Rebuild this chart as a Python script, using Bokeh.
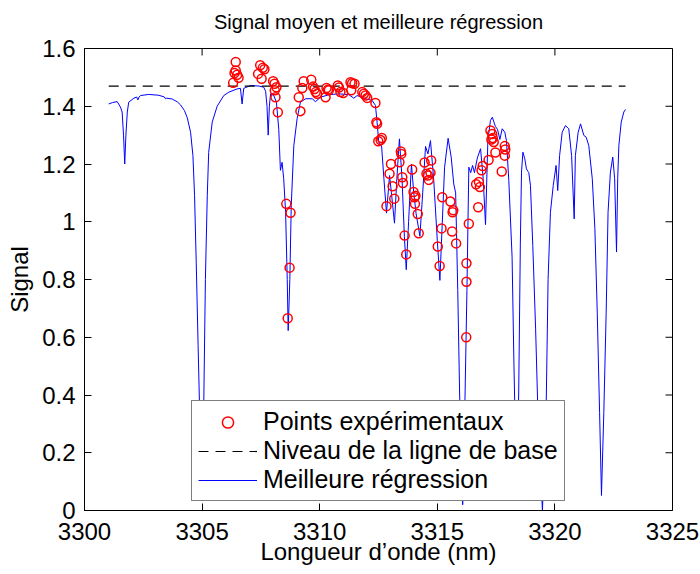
from bokeh.plotting import figure
from bokeh.models import Legend, LegendItem, FixedTicker, Range1d, LinearAxis
from bokeh.embed import file_html
from bokeh.resources import INLINE

# ---- data ----
fit_x = [3301.03, 3301.20, 3301.39, 3301.53, 3301.60, 3301.66, 3301.71, 3301.76, 3301.82, 3301.88,
         3302.10, 3302.22, 3302.27, 3302.32, 3302.38, 3302.73, 3303.16, 3303.40, 3303.44, 3303.50,
         3303.73, 3303.95, 3304.08, 3304.25, 3304.37, 3304.51, 3304.61, 3304.68, 3304.75, 3304.83,
         3304.89, 3304.97, 3305.07, 3305.14, 3305.22, 3305.28, 3305.43, 3305.64, 3305.92, 3306.14,
         3306.49, 3306.63, 3306.70, 3306.77, 3307.06, 3307.41, 3307.62, 3307.70, 3307.76, 3307.81,
         3307.86, 3307.91, 3308.05, 3308.16, 3308.26, 3308.33, 3308.40, 3308.47, 3308.55, 3308.62,
         3308.66, 3308.73, 3308.79, 3308.90, 3309.04, 3309.18, 3309.40, 3309.68, 3309.82, 3310.03,
         3310.39, 3310.81, 3311.24, 3311.45, 3311.59, 3311.95, 3312.23, 3312.37, 3312.44, 3312.51,
         3312.63, 3312.73, 3312.84, 3312.97, 3313.05, 3313.18, 3313.28, 3313.39, 3313.50, 3313.60,
         3313.68, 3313.78, 3313.90, 3314.00, 3314.10, 3314.26, 3314.38, 3314.50, 3314.60, 3314.71,
         3314.85, 3315.00, 3315.11, 3315.21, 3315.31, 3315.46, 3315.59, 3315.70, 3315.78, 3315.87,
         3315.95, 3316.08, 3316.18, 3316.26, 3316.34, 3316.42, 3316.50, 3316.58, 3316.70, 3316.84,
         3316.95, 3317.05, 3317.15, 3317.26, 3317.34, 3317.47, 3317.56, 3317.66, 3317.76, 3317.87,
         3317.94, 3318.04, 3318.18, 3318.26, 3318.36, 3318.46, 3318.53, 3318.58, 3318.64, 3318.72,
         3318.79, 3318.85, 3318.89, 3318.96, 3319.06, 3319.18, 3319.27, 3319.47, 3319.63, 3319.71,
         3319.81, 3319.93, 3320.05, 3320.12, 3320.20, 3320.31, 3320.45, 3320.59, 3320.71, 3320.82,
         3320.87, 3320.99, 3321.09, 3321.23, 3321.33, 3321.44, 3321.59, 3321.70, 3321.80, 3321.90,
         3321.98, 3322.08, 3322.18, 3322.26, 3322.36, 3322.46, 3322.54, 3322.62, 3322.67, 3322.72,
         3322.82, 3322.93, 3323.00]
fit_y = [1.408, 1.413, 1.416, 1.397, 1.38, 1.30, 1.20, 1.30, 1.38, 1.414,
         1.428, 1.432, 1.422, 1.432, 1.437, 1.441, 1.438, 1.432, 1.426, 1.428,
         1.425, 1.415, 1.405, 1.385, 1.36, 1.31, 1.229, 1.09, 0.86, 0.571,
         0.364, 0.06, 0.364, 0.80, 1.09, 1.24, 1.345, 1.40, 1.437, 1.449,
         1.46, 1.462, 1.408, 1.462, 1.472, 1.47, 1.466, 1.452, 1.40, 1.30,
         1.40, 1.443, 1.437, 1.414, 1.32, 1.178, 1.206, 1.149, 1.033, 0.80,
         0.623, 0.80, 1.056, 1.264, 1.357, 1.414, 1.426, 1.426, 1.416, 1.431,
         1.44, 1.443, 1.44, 1.428, 1.437, 1.426, 1.42, 1.403, 1.345, 1.275,
         1.264, 1.149, 1.03, 1.16, 1.10, 0.995, 1.15, 1.287, 1.15, 0.95,
         0.834, 1.00, 1.20, 1.10, 1.027, 0.95, 1.10, 1.261, 1.235, 1.281,
         1.143, 0.935, 0.797, 0.993, 1.189, 1.289, 1.224, 1.131, 1.10, 0.762,
         0.40, 0.02, 0.40, 0.762, 1.189, 1.17, 1.195, 1.17, 1.22, 1.253,
         1.15, 0.99, 1.281, 1.351, 1.362, 1.33, 1.32, 1.285, 1.322, 1.31,
         1.281, 1.143, 0.877, 0.50, 0.10, 0.40, 0.92, 1.172, 1.241, 1.218,
         1.183, 1.175, 1.17, 1.126, 0.918, 0.629, 0.364, 0.0, 0.364, 0.80,
         1.033, 1.126, 1.195, 1.108, 1.229, 1.31, 1.333, 1.322, 1.229, 1.01,
         1.229, 1.31, 1.339, 1.299, 1.293, 1.264, 1.149, 0.976, 0.687, 0.34,
         0.052, 0.34, 0.687, 1.033, 1.172, 1.224, 1.149, 0.895, 1.149, 1.264,
         1.345, 1.38, 1.389]

pts_x = [3306.32, 3306.38, 3306.43, 3306.43, 3306.49, 3306.55,
         3307.38, 3307.47, 3307.53, 3307.58, 3307.65,
         3308.02, 3308.08, 3308.16, 3308.09, 3308.12, 3308.22,
         3308.58, 3308.76, 3308.72, 3308.64,
         3309.11, 3309.18, 3309.26, 3309.32, 3309.64, 3309.72, 3309.78, 3309.83, 3309.89,
         3310.25, 3310.29, 3310.35, 3310.39, 3310.77, 3310.82, 3310.88, 3311.00,
         3311.31, 3311.38, 3311.48, 3311.34, 3311.81, 3311.88, 3311.95, 3312.02,
         3312.37, 3312.41, 3312.44, 3312.49, 3312.59, 3312.64,
         3312.84, 3312.97, 3313.03, 3313.10, 3313.17,
         3313.39, 3313.45, 3313.47, 3313.51, 3313.54, 3313.61, 3313.68,
         3313.93, 3313.99, 3314.03, 3314.05, 3314.07, 3314.17, 3314.21,
         3314.46, 3314.54, 3314.60, 3314.64, 3314.71, 3314.74,
         3315.02, 3315.10, 3315.18, 3315.21,
         3315.56, 3315.65, 3315.68, 3315.63, 3315.80,
         3316.23, 3316.24, 3316.24, 3316.34,
         3316.65, 3316.74, 3316.77, 3316.81, 3316.88, 3316.93,
         3317.18, 3317.26, 3317.30, 3317.33, 3317.36, 3317.40, 3317.47,
         3317.74, 3317.87, 3317.89, 3317.87]
pts_y = [1.481, 1.515, 1.553, 1.524, 1.509, 1.499,
         1.512, 1.542, 1.495, 1.533, 1.528,
         1.487, 1.478, 1.466, 1.455, 1.431, 1.379,
         1.062, 1.031, 0.841, 0.666,
         1.431, 1.383, 1.463, 1.487, 1.492, 1.468, 1.460, 1.449, 1.443,
         1.431, 1.463, 1.457, 1.455, 1.472, 1.465, 1.449, 1.446,
         1.483, 1.480, 1.478, 1.455, 1.449, 1.443, 1.437, 1.429,
         1.411, 1.345, 1.339, 1.279, 1.283, 1.290,
         1.054, 1.166, 1.200, 1.123, 1.080,
         1.206, 1.243, 1.235, 1.154, 1.134, 0.952, 0.887,
         1.181, 1.103, 1.085, 1.062, 1.090, 1.027, 0.960,
         1.205, 1.166, 1.160, 1.145, 1.170, 1.212,
         0.914, 0.847, 0.977, 1.085,
         1.070, 1.033, 1.040, 0.966, 0.925,
         0.600, 0.792, 0.856, 0.993,
         1.130, 1.050, 1.138, 1.120, 1.178, 1.193,
         1.214, 1.316, 1.285, 1.304, 1.290, 1.276, 1.240,
         1.174, 1.262, 1.250, 1.229]

base_x = [3301.03, 3323.00]
base_level = 1.47

x_ticks = [3300, 3305, 3310, 3315, 3320, 3325]
y_ticks = [0, 0.2, 0.4, 0.6, 0.8, 1, 1.2, 1.4, 1.6]
y_tick_labels = ["0", "0.2", "0.4", "0.6", "0.8", "1", "1.2", "1.4", "1.6"]

title_text = "Signal moyen et meilleure régression"
x_label = "Longueur d’onde (nm)"
y_label = "Signal"
legend_labels = ["Points expérimentaux", "Niveau de la ligne de base", "Meilleure régression"]

FONT = "Liberation Sans"
x_lo, x_hi = x_ticks[0], x_ticks[-1]
y_lo, y_hi = y_ticks[0], y_ticks[-1]

p = figure(width=700, height=574, x_range=Range1d(x_lo, x_hi), y_range=Range1d(y_lo, y_hi),
           output_backend="svg", toolbar_location=None,
           min_border_left=84, min_border_right=28, min_border_top=48, min_border_bottom=64,
           background_fill_color="white", border_fill_color="white")

p.xgrid.visible = False
p.ygrid.visible = False
p.outline_line_color = "black"
p.outline_line_width = 1

for ax, ticks in ((p.xaxis[0], x_ticks), (p.yaxis[0], y_ticks)):
    ax.ticker = FixedTicker(ticks=ticks)
    ax.major_tick_in = 7
    ax.major_tick_out = 0
    ax.minor_tick_line_color = None
    ax.axis_line_color = "black"
    ax.major_tick_line_color = "black"
    ax.major_label_text_font = FONT
    ax.major_label_text_color = "black"
    ax.major_label_text_font_size = "24px"
    ax.axis_label_text_font = FONT
    ax.axis_label_text_font_size = "24px"
    ax.axis_label_text_font_style = "normal"
    ax.axis_label_text_color = "black"

p.xaxis[0].major_label_standoff = 12
p.yaxis[0].major_label_standoff = 9
p.xaxis[0].axis_label_standoff = -5
p.yaxis[0].axis_label_standoff = 6
p.yaxis[0].major_label_overrides = {v: s for v, s in zip(y_ticks, y_tick_labels)}
p.xaxis[0].axis_label = x_label
p.yaxis[0].axis_label = y_label

# title: carried by a tick-less axis above the box
title_axis = LinearAxis(ticker=FixedTicker(ticks=[]), axis_label=title_text)
title_axis.axis_line_color = None
title_axis.major_tick_line_color = None
title_axis.minor_tick_line_color = None
title_axis.major_tick_in = 0
title_axis.major_tick_out = 0
title_axis.major_label_standoff = 0
title_axis.axis_label_standoff = 16
title_axis.axis_label_text_font = FONT
title_axis.axis_label_text_font_size = "20px"
title_axis.axis_label_text_font_style = "normal"
title_axis.axis_label_text_color = "black"
p.add_layout(title_axis, "above")

# inward tick marks on the top and right edges of the box
p.ray(x=x_ticks, y=[y_hi] * len(x_ticks), length=7, length_units="screen",
      angle=-90, angle_units="deg", line_color="black", line_width=1)
p.ray(x=[x_hi] * len(y_ticks), y=y_ticks, length=7, length_units="screen",
      angle=180, angle_units="deg", line_color="black", line_width=1)

r_fit = p.line(fit_x, fit_y, line_color="#0000ff", line_width=1)
r_base = p.line(base_x, [base_level] * len(base_x), line_color="black", line_width=1.2,
                line_dash="10 7")
r_pts = p.scatter(pts_x, pts_y, marker="circle", size=9, fill_color=None,
                  line_color="#ff0000", line_width=1.5)

legend = Legend(items=[
    LegendItem(label=legend_labels[0], renderers=[r_pts]),
    LegendItem(label=legend_labels[1], renderers=[r_base]),
    LegendItem(label=legend_labels[2], renderers=[r_fit]),
], location=(107, 9))
legend.margin = 0
legend.padding = 6
legend.spacing = 0
legend.label_height = 28
legend.glyph_height = 28
legend.glyph_width = 59
legend.label_standoff = 6
legend.label_text_font = FONT
legend.label_text_font_size = "25px"
legend.label_text_color = "black"
legend.border_line_color = "black"
legend.border_line_width = 1.5
legend.background_fill_color = "white"
legend.background_fill_alpha = 1
p.add_layout(legend, "center")

open("out.html", "w").write(file_html(p, INLINE))
